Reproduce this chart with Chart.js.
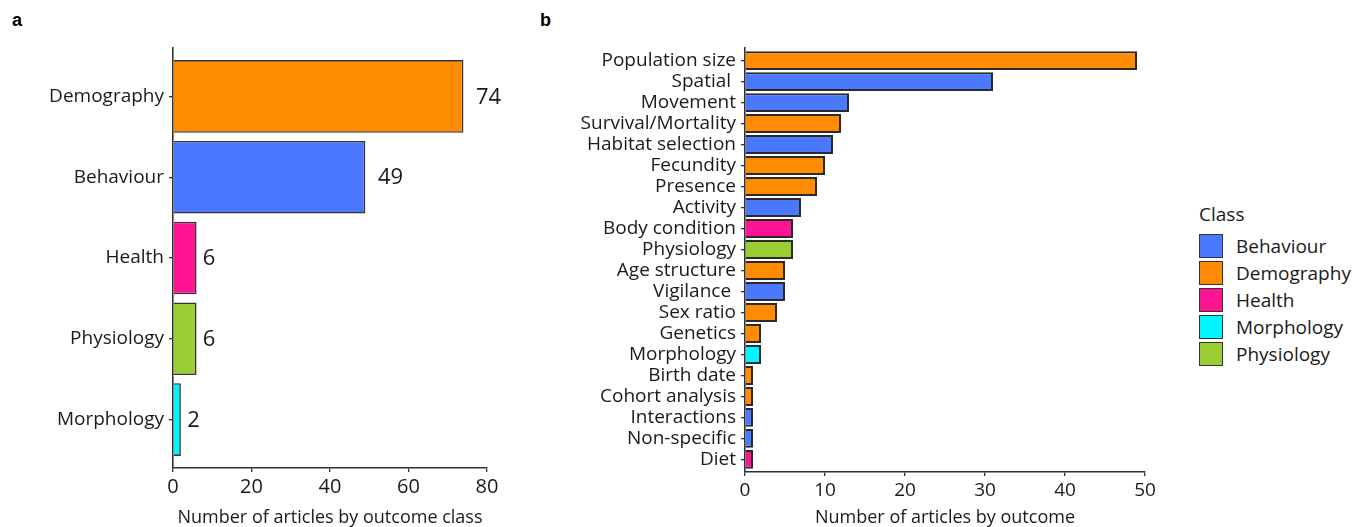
<!DOCTYPE html>
<html>
<head>
<meta charset="utf-8">
<script src="https://cdn.jsdelivr.net/npm/chart.js@4.4.1/dist/chart.umd.min.js"></script>
<style>
  html, body { margin: 0; padding: 0; background: #fff; }
  body { width: 1367px; height: 527px; position: relative; overflow: hidden; font-family: 'Open Sans', sans-serif; color: #1a1a1a; }
  .panel-tag { position: absolute; font: bold 18px 'Liberation Sans', Arial, sans-serif; color: #000; }
  #wrapA { position: absolute; left: 0; top: 0; width: 540px; height: 527px; }
  #wrapB { position: absolute; left: 540px; top: 0; width: 640px; height: 527px; }
  #legend { position: absolute; left: 1199px; top: 201px; font-size: 19px; }
  #legend .title { height: 26px; line-height: 26px; margin-bottom: 5px; }
  #legend .item { display: flex; align-items: center; height: 27px; }
  #legend .box { width: 24px; height: 24px; border: 1.5px solid #333; box-sizing: border-box; margin-right: 13px; }
</style>
</head>
<body>
<div class="panel-tag" style="left:12px; top:10px;">a</div>
<div class="panel-tag" style="left:540px; top:10px;">b</div>
<div id="wrapA"><canvas id="chartA"></canvas></div>
<div id="wrapB"><canvas id="chartB"></canvas></div>
<div id="legend"></div>

<script>
// --- DATA ---
const classNames = ['Behaviour', 'Demography', 'Health', 'Morphology', 'Physiology'];
const classColors = ['#4A78FF', '#FF8C00', '#FF1493', '#00F5FF', '#9ACD32'];

// panel a: articles by outcome class
const classOrder = ['Demography', 'Behaviour', 'Health', 'Physiology', 'Morphology'];
const classCounts = [74, 49, 6, 6, 2];

// panel b: articles by outcome
const outcomeLabels = ['Population size', 'Spatial ', 'Movement', 'Survival/Mortality', 'Habitat selection',
  'Fecundity', 'Presence', 'Activity', 'Body condition', 'Physiology', 'Age structure', 'Vigilance ',
  'Sex ratio', 'Genetics', 'Morphology', 'Birth date', 'Cohort analysis', 'Interactions', 'Non-specific', 'Diet'];
const outcomeCounts = [49, 31, 13, 12, 11, 10, 9, 7, 6, 6, 5, 5, 4, 2, 2, 1, 1, 1, 1, 1];
const outcomeClass = ['Demography', 'Behaviour', 'Behaviour', 'Demography', 'Behaviour',
  'Demography', 'Demography', 'Behaviour', 'Health', 'Physiology', 'Demography', 'Behaviour',
  'Demography', 'Demography', 'Morphology', 'Demography', 'Demography', 'Behaviour', 'Behaviour', 'Health'];

const xTicksA = [0, 20, 40, 60, 80];
const xTicksB = [0, 10, 20, 30, 40, 50];

// --- HELPERS ---
Chart.defaults.font.family = "'Open Sans', sans-serif";
Chart.defaults.color = '#1a1a1a';
Chart.defaults.animation = false;

const colorOf = name => classColors[classNames.indexOf(name)];
const AXIS = '#333333';

function indexAxis(labels, fontSize, width) {
    // discrete axis on a linear scale so we get ggplot's 0.6 expansion
    return {
        type: 'linear',
        reverse: true,
        offset: false,
        min: -0.6,
        max: labels.length - 0.4,
        afterBuildTicks: s => { s.ticks = labels.map((_, i) => ({ value: i })); },
        afterFit: s => { s.width = width; },
        ticks: { callback: v => labels[v], font: { size: fontSize }, padding: 5, color: '#1a1a1a', autoSkip: false },
        grid: { offset: false, drawOnChartArea: false, drawTicks: true, tickLength: 4, color: AXIS, lineWidth: 1.3 },
        border: { display: true, color: AXIS, width: 1.6 }
    };
}

function valueAxis(ticks, title, fontSize, height) {
    return {
        type: 'linear',
        min: ticks[0],
        max: ticks[ticks.length - 1],
        afterBuildTicks: s => { s.ticks = ticks.map(v => ({ value: v })); },
        afterFit: s => { s.height = height; },
        ticks: { font: { size: fontSize }, padding: 3, color: '#1a1a1a', maxRotation: 0, autoSkip: false },
        grid: { drawOnChartArea: false, drawTicks: true, tickLength: 4, color: AXIS, lineWidth: 1.3 },
        border: { display: true, color: AXIS, width: 1.6 },
        title: { display: true, text: title, font: { size: 18 }, color: '#1a1a1a', padding: { top: 0, bottom: -2 } }
    };
}

// count labels right of the bars (hjust = -0.5 style: offset by half the text width)
const barValueLabels = {
    id: 'barValueLabels',
    afterDatasetsDraw(chart) {
        const ctx = chart.ctx;
        const meta = chart.getDatasetMeta(0);
        ctx.save();
        ctx.font = "22px 'Open Sans', sans-serif";
        ctx.fillStyle = '#1a1a1a';
        ctx.textBaseline = 'middle';
        meta.data.forEach((bar, i) => {
            const txt = String(classCounts[i]);
            const w = ctx.measureText(txt).width;
            ctx.fillText(txt, bar.x + w * 0.5, bar.y + 1);
        });
        ctx.restore();
    }
};

// --- PANEL A ---
new Chart(document.getElementById('chartA'), {
    type: 'bar',
    data: {
        datasets: [{
            data: classCounts.map((v, i) => ({ x: v, y: i })),
            backgroundColor: classOrder.map(colorOf),
            borderColor: AXIS,
            borderWidth: 1.6,
            barPercentage: 0.9,
            categoryPercentage: 1.0
        }]
    },
    options: {
        indexAxis: 'y',
        responsive: true,
        maintainAspectRatio: false,
        layout: { padding: { top: 48, right: 53, bottom: 0, left: 0 } },
        plugins: { legend: { display: false }, tooltip: { enabled: false } },
        scales: {
            x: valueAxis(xTicksA, 'Number of articles by outcome class', 20, 59),
            y: indexAxis(classOrder, 19, 173)
        }
    },
    plugins: [barValueLabels]
});

// --- PANEL B ---
new Chart(document.getElementById('chartB'), {
    type: 'bar',
    data: {
        datasets: [{
            data: outcomeCounts.map((v, i) => ({ x: v, y: i })),
            backgroundColor: outcomeClass.map(colorOf),
            borderColor: '#2a2a2a',
            borderWidth: 2,
            barPercentage: 0.9,
            categoryPercentage: 1.0
        }]
    },
    options: {
        indexAxis: 'y',
        responsive: true,
        maintainAspectRatio: false,
        layout: { padding: { top: 48, right: 35, bottom: 0, left: 0 } },
        plugins: { legend: { display: false }, tooltip: { enabled: false } },
        scales: {
            x: valueAxis(xTicksB, 'Number of articles by outcome', 19, 55),
            y: indexAxis(outcomeLabels, 19, 205)
        }
    }
});

// --- LEGEND (Class) ---
const legend = document.getElementById('legend');
legend.innerHTML = '<div class="title">Class</div>' + classNames.map((n, i) =>
    `<div class="item"><span class="box" style="background:${classColors[i]}"></span>${n}</div>`).join('');
</script>
</body>
</html>
